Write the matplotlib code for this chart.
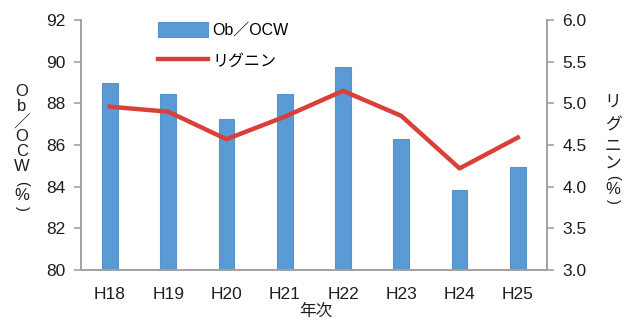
import numpy as np
import matplotlib
matplotlib.use("Agg")
import matplotlib.pyplot as plt

plt.rcParams['font.family'] = ['Liberation Sans', 'Noto Sans CJK JP', 'DejaVu Sans']

years = ["H18", "H19", "H20", "H21", "H22", "H23", "H24", "H25"]
ob_ocw = [89.0, 88.45, 87.25, 88.45, 89.75, 86.3, 83.85, 84.95]
lignin = [4.96, 4.90, 4.57, 4.84, 5.15, 4.85, 4.22, 4.59]

axis_col = "#a8a29e"
txt_col = "#1e1e1e"
W, H = 636, 320

fig = plt.figure(figsize=(6.36, 3.2), dpi=100)
ax = fig.add_axes([0.127, 0.156, 0.733, 0.7815])
x = np.arange(len(years))

ax.bar(x, ob_ocw, width=0.27, color="#5b9bd5", edgecolor="#5a93c8",
       linewidth=0.8, label="Ob／OCW", zorder=2)
ax.set_ylim(80, 92)
ax.set_yticks(np.arange(80, 93, 2))
ax.set_xlim(-0.5, len(years) - 0.5)
ax.set_xticks(x)
ax.set_xticklabels(years)

ax2 = ax.twinx()
ax2.plot(x, lignin, color="#d9403a", linewidth=3.2, label="リグニン", zorder=3)
ax2.set_ylim(3.0, 6.0)
ax2.set_yticks(np.arange(3.0, 6.01, 0.5))
ax2.set_yticklabels([f"{v:.1f}" for v in np.arange(3.0, 6.01, 0.5)])

for a in (ax, ax2):
    a.spines['top'].set_visible(False)
    for s in ('left', 'right', 'bottom'):
        a.spines[s].set_color(axis_col)
        a.spines[s].set_linewidth(1.3)
    a.tick_params(axis='y', colors=axis_col, labelcolor=txt_col,
                  labelsize=12.5, length=5, width=1.2, pad=6)
    a.tick_params(axis='x', length=0, labelsize=12.5, labelcolor=txt_col, pad=12)


def put(xpix, ypix, s, **kw):
    # text placed in pixel coords measured from the top-left corner
    fig.text(xpix / W, 1 - ypix / H, s, ha="center", va="center",
             color=txt_col, **kw)


# left title, stacked vertically
put(22, 129, "\n".join("Ob／OCW"), fontsize=12, linespacing=0.98)
put(22, 183, "(", fontsize=10.5, rotation=-90)
put(22, 195, "%", fontsize=12)
put(22, 208, ")", fontsize=10.5, rotation=-90)

# right title, stacked vertically
for ch, yp in zip("リグニン", [102, 125, 146, 163]):
    put(613, yp, ch, fontsize=12)
put(613, 177, "(", fontsize=10.5, rotation=-90)
put(613, 189, "%", fontsize=12)
put(613, 201, ")", fontsize=10.5, rotation=-90)

put(316, 311, "年次", fontsize=12)

h1, l1 = ax.get_legend_handles_labels()
h2, l2 = ax2.get_legend_handles_labels()
ax2.legend(h1 + h2, l1 + l2, loc="upper left", bbox_to_anchor=(0.135, 1.05),
           frameon=False, fontsize=11.5, handlelength=3.1, handleheight=1.1,
           handletextpad=0.3, labelspacing=0.9)

fig.savefig("out.png", dpi=100)
